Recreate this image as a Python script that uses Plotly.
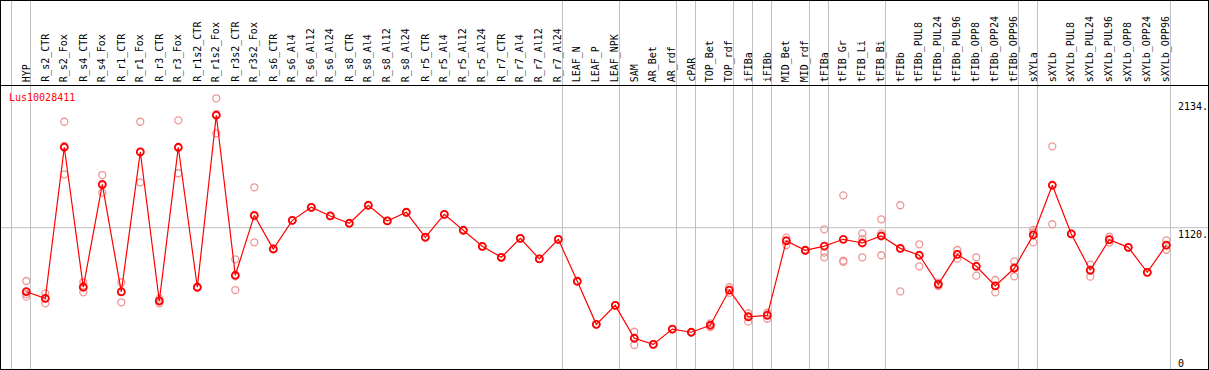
import plotly.graph_objects as go

W, H = 1209, 370

categories = ["HYP", "R_s2_CTR", "R_s2_Fox", "R_s4_CTR", "R_s4_Fox", "R_r1_CTR", "R_r1_Fox",
              "R_r3_CTR", "R_r3_Fox", "R_r1s2_CTR", "R_r1s2_Fox", "R_r3s2_CTR", "R_r3s2_Fox",
              "R_s6_CTR", "R_s6_Al4", "R_s6_Al12", "R_s6_Al24", "R_s8_CTR", "R_s8_Al4", "R_s8_Al12",
              "R_s8_Al24", "R_r5_CTR", "R_r5_Al4", "R_r5_Al12", "R_r5_Al24", "R_r7_CTR", "R_r7_Al4",
              "R_r7_Al12", "R_r7_Al24", "LEAF_N", "LEAF_P", "LEAF_NPK", "SAM", "AR_Bet", "AR_rdf",
              "cPAR", "TOP_Bet", "TOP_rdf", "iFIBa", "iFIBb", "MID_Bet", "MID_rdf", "tFIBa",
              "tFIB_Gr", "tFIB_Li", "tFIB_Bi", "tFIBb", "tFIBb_PUL8", "tFIBb_PUL24", "tFIBb_PUL96",
              "tFIBb_OPP8", "tFIBb_OPP24", "tFIBb_OPP96", "sXYLa", "sXYLb", "sXYLb_PUL8",
              "sXYLb_PUL24", "sXYLb_PUL96", "sXYLb_OPP8", "sXYLb_OPP24", "sXYLb_OPP96"]

means = [618, 566, 1751, 653, 1460, 616, 1714, 545, 1751, 653, 2002, 747, 1217,
         953, 1178, 1280, 1212, 1155, 1296, 1173, 1241, 1045, 1225, 1100, 974, 888, 1037,
         875, 1029, 700, 362, 511, 253, 205, 325, 300, 355, 631, 420, 433, 1016, 943, 976,
         1029, 1000, 1055, 958, 904, 676, 911, 817, 663, 802, 1063, 1453, 1071, 786, 1026,
         966, 770, 984]

rep1 = [702, 605, 1951, 692, 1533, 692, 1951, 563, 1962, 657, 2135, 872, 1437,
        953, 1178, 1280, 1212, 1155, 1296, 1173, 1241, 1045, 1225, 1100, 974, 888, 1037,
        875, 1029, 700, 362, 511, 304, 205, 325, 300, 370, 653, 449, 453, 1042, 943, 1107,
        1374, 1076, 1186, 1296, 990, 689, 945, 888, 710, 856, 1102, 1758, 1071, 830, 1049,
        966, 770, 1021]
rep2 = [600, 566, 1761, 665, 1452, 621, 1715, 545, 1744, 653, 2011, 738, 1209,
        953, 1178, 1280, 1212, 1155, 1296, 1173, 1241, 1045, 1225, 1100, 974, 888, 1037,
        875, 1029, 700, 362, 511, 255, 205, 325, 300, 355, 631, 428, 440, 1022, 943, 924,
        861, 1031, 1075, 957, 905, 676, 911, 819, 666, 811, 1082, 1454, 1071, 792, 1026,
        966, 770, 984]
rep3 = [579, 527, 1539, 613, 1395, 535, 1476, 527, 1547, 649, 1860, 631, 1005,
        953, 1178, 1280, 1212, 1155, 1296, 1173, 1241, 1045, 1225, 1100, 974, 888, 1037,
        875, 1029, 700, 362, 511, 200, 205, 325, 300, 340, 609, 383, 406, 984, 943, 888,
        853, 888, 904, 621, 817, 663, 877, 744, 613, 739, 1005, 1147, 1071, 736, 1003,
        966, 770, 947]

# group boundaries (index after which a separator is drawn)
separators_after = [-1, 0, 28, 31, 34, 35, 37, 38, 39, 41, 42, 45, 52, 53, 60]
ytick_labels = ["2134.", "1120.", "0"]
ytick_values = [2134, 1120, 0]
gene = "Lus10028411"

x = list(range(len(categories)))

# pixel geometry
x0_px, dx_px = 26.3, 19.0
plot_left, plot_right = 1, 1208
plot_top, plot_bot = 85, 369
y_zero_px, y_scale = 370.5, 0.1275

xr = [(plot_left - x0_px) / dx_px, (plot_right - x0_px) / dx_px]
yr = [(y_zero_px - plot_bot) / y_scale, (y_zero_px - plot_top) / y_scale]

def py(p):
    return 1 - p / H

def px(p):
    return p / W

fig = go.Figure()

rx, ry = [], []
for r in (rep1, rep2, rep3):
    rx += x
    ry += r
fig.add_trace(go.Scatter(x=rx, y=ry, mode="markers",
                         marker=dict(symbol="circle-open", size=7, color="rgb(238,150,150)",
                                     line=dict(width=1.3)),
                         hoverinfo="skip", showlegend=False, cliponaxis=False))
fig.add_trace(go.Scatter(x=x, y=means, mode="lines+markers",
                         line=dict(color="red", width=1.2),
                         marker=dict(symbol="circle-open", size=7, color="red",
                                     line=dict(width=1.8)),
                         showlegend=False, cliponaxis=False))

shapes = []
for s in separators_after:
    shapes.append(dict(type="line", xref="x", yref="paper", x0=s + 0.22, x1=s + 0.22,
                       y0=0, y1=1, line=dict(color="#c0c0c0", width=1), layer="below"))
shapes.append(dict(type="line", xref="paper", yref="y", x0=px(plot_left), x1=px(plot_right),
                   y0=1120, y1=1120, line=dict(color="#c0c0c0", width=1), layer="below"))
# black frame lines
for yy in (0.5, plot_top + 0.5, plot_bot + 0.5):
    shapes.append(dict(type="line", xref="paper", yref="paper", x0=0, x1=1,
                       y0=py(yy), y1=py(yy), line=dict(color="black", width=1)))
for xx in (0.5, plot_right + 0.5):
    shapes.append(dict(type="line", xref="paper", yref="paper", x0=px(xx), x1=px(xx),
                       y0=0, y1=1, line=dict(color="black", width=1)))

mono = "DejaVu Sans Mono"
annotations = []
for i, c in enumerate(categories):
    annotations.append(dict(x=i, xref="x", y=py(83), yref="paper", text=c, textangle=-90,
                            showarrow=False, xanchor="center", yanchor="bottom",
                            font=dict(family=mono, size=10, color="black"), borderpad=0))
annotations.append(dict(x=px(8), xref="paper", y=py(91), yref="paper", text=gene,
                        showarrow=False, xanchor="left", yanchor="top",
                        font=dict(family=mono, size=10, color="red"), borderpad=0))
for lab, v in zip(ytick_labels, ytick_values):
    yp = y_zero_px - v * y_scale
    if v == max(ytick_values):
        yp += 2
    if yp > 357:
        yp = 357
    annotations.append(dict(x=px(1177), xref="paper", y=py(yp), yref="paper", text=lab,
                            showarrow=False, xanchor="left", yanchor="top",
                            font=dict(family=mono, size=10, color="black"), borderpad=0))

fig.update_layout(
    width=W, height=H, margin=dict(l=0, r=0, t=0, b=0),
    paper_bgcolor="white", plot_bgcolor="white",
    xaxis=dict(range=xr, domain=[px(plot_left), px(plot_right)], showgrid=False,
               zeroline=False, showticklabels=False, ticks=""),
    yaxis=dict(range=yr, domain=[py(plot_bot), py(plot_top)], showgrid=False,
               zeroline=False, showticklabels=False, ticks=""),
    shapes=shapes, annotations=annotations,
)

fig.write_html("out.html", config={"displayModeBar": False},
               post_script="document.body.style.margin='0';document.body.style.overflow='hidden';")
